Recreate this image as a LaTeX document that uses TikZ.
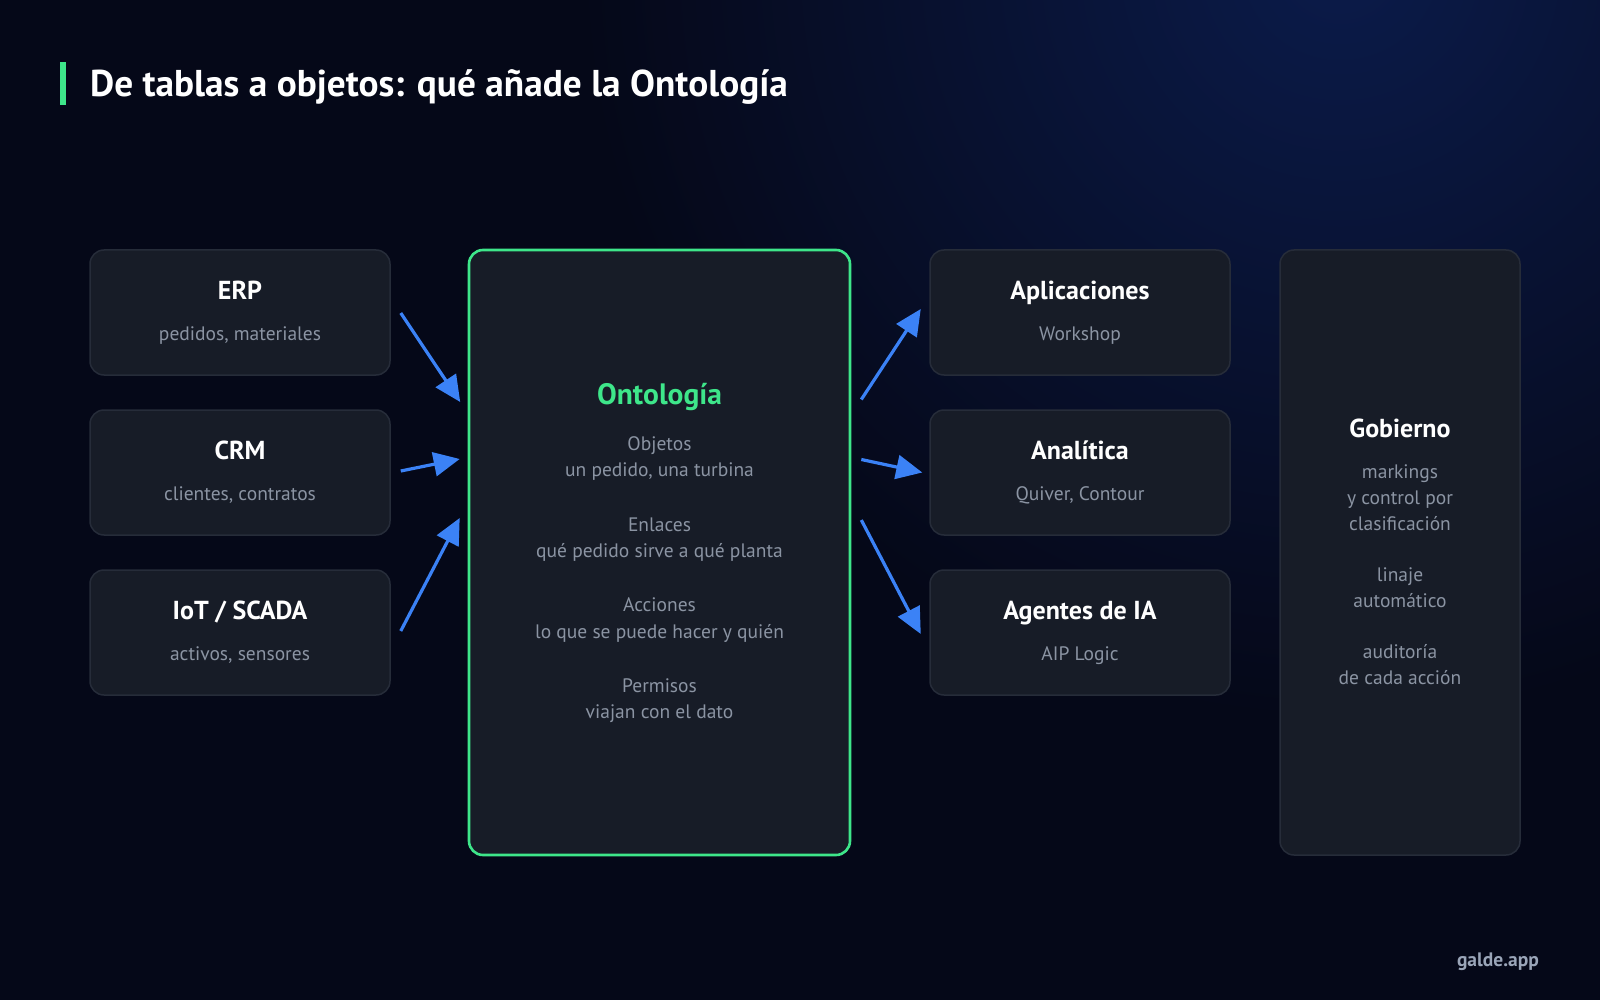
\documentclass[tikz,border=0pt]{standalone}
\usepackage{fontspec}
\setmainfont{PT Sans}
\usetikzlibrary{arrows.meta,calc}
\definecolor{bg}{HTML}{050818}
\definecolor{glow}{HTML}{0B1B4A}
\definecolor{boxfill}{HTML}{171C27}
\definecolor{boxline}{HTML}{262C39}
\definecolor{accent}{HTML}{3EE68A}
\definecolor{arrowblue}{HTML}{3B82F6}
\definecolor{subgray}{HTML}{8B94A3}
\definecolor{brandgray}{HTML}{9AA5B8}
\tikzset{
  box/.style={draw=boxline, line width=1.5pt, fill=boxfill, rounded corners=14pt, inner sep=0pt},
  mainbox/.style={draw=accent, line width=2.6pt, fill=boxfill, rounded corners=14pt, inner sep=0pt},
  boxtitle/.style={anchor=base, text=white, font=\fontsize{26}{30}\selectfont\bfseries, inner sep=0pt},
  boxsub/.style={anchor=base, text=subgray, font=\fontsize{19.5}{23}\selectfont, inner sep=0pt},
  flow/.style={draw=arrowblue, line width=3.2pt, -{Triangle[length=26pt,width=24pt]}},
}
\begin{document}
\begin{tikzpicture}[x=1pt,y=-1pt]
\useasboundingbox (0,0) rectangle (1600,1000);
\fill[bg] (0,0) rectangle (1600,1000);
\begin{scope}
  \clip (0,0) rectangle (1600,1000);
  \shade[inner color=glow, outer color=bg] (1340,-40) circle (760);
\end{scope}

% title
\fill[accent] (60,62) rectangle (65.5,105.5);
\node[anchor=base west, text=white, inner sep=0pt, font=\fontsize{37.3}{42}\selectfont\bfseries] (title) at (90,96.7) {De tablas a objetos: qué añade la Ontología};

% left sources
\node[box, minimum width=300, minimum height=125] (erp) at (240,312.5) {};
\node[box, minimum width=300, minimum height=125] (crm) at (240,472.5) {};
\node[box, minimum width=300, minimum height=125] (iot) at (240,632.5) {};
\node[boxtitle] (erpt) at (240,299.3) {ERP};
\node[boxsub] (erps) at (240,340) {pedidos, materiales};
\node[boxtitle] (crmt) at (240,459.3) {CRM};
\node[boxsub] (crms) at (240,500) {clientes, contratos};
\node[boxtitle] (iott) at (240,619.3) {IoT / SCADA};
\node[boxsub] (iots) at (240,660) {activos, sensores};

% center
\node[mainbox, minimum width=381, minimum height=605] (onto) at (659.5,552.5) {};
\node[anchor=base, text=accent, inner sep=0pt, font=\fontsize{29.5}{34}\selectfont\bfseries] (ontot) at (659.5,404) {Ontología};
\node[boxsub] (o1) at (659.5,450.7) {Objetos};
\node[boxsub] (o2) at (659.5,476.9) {un pedido, una turbina};
\node[boxsub] (o3) at (659.5,531.3) {Enlaces};
\node[boxsub] (o4) at (659.5,557.5) {qué pedido sirve a qué planta};
\node[boxsub] (o5) at (659.5,611.9) {Acciones};
\node[boxsub] (o6) at (659.5,638.1) {lo que se puede hacer y quién};
\node[boxsub] (o7) at (659.5,692.5) {Permisos};
\node[boxsub] (o8) at (659.5,718.7) {viajan con el dato};

% right consumers
\node[box, minimum width=300, minimum height=125] (app) at (1080,312.5) {};
\node[box, minimum width=300, minimum height=125] (ana) at (1080,472.5) {};
\node[box, minimum width=300, minimum height=125] (age) at (1080,632.5) {};
\node[boxtitle] (appt) at (1080,299.3) {Aplicaciones};
\node[boxsub] (apps) at (1080,340) {Workshop};
\node[boxtitle] (anat) at (1080,459.3) {Analítica};
\node[boxsub] (anas) at (1080,500) {Quiver, Contour};
\node[boxtitle] (aget) at (1080,619.3) {Agentes de IA};
\node[boxsub] (ages) at (1080,660) {AIP Logic};

% governance
\node[box, minimum width=240, minimum height=605] (gob) at (1400,552.5) {};
\node[boxtitle] (gobt) at (1400,437.7) {Gobierno};
\node[boxsub] (g1) at (1400,478.3) {markings};
\node[boxsub] (g2) at (1400,504.6) {y control por};
\node[boxsub] (g3) at (1400,530.6) {clasificación};
\node[boxsub] (g4) at (1400,581.4) {linaje};
\node[boxsub] (g5) at (1400,607.3) {automático};
\node[boxsub] (g6) at (1400,658.2) {auditoría};
\node[boxsub] (g7) at (1400,684.4) {de cada acción};

% arrows
\draw[flow] ($(erp.east)+(10,0.5)$) -- ($(onto.west)+(-7.5,-150.5)$);
\draw[flow] ($(crm.east)+(10,-1.5)$) -- ($(onto.west)+(-8,-93.5)$);
\draw[flow] ($(iot.east)+(10,-1.5)$) -- ($(onto.west)+(-8,-34.5)$);
\draw[flow] ($(onto.east)+(10,-153)$) -- ($(app.west)+(-8.5,-3.5)$);
\draw[flow] ($(onto.east)+(10,-93)$) -- ($(ana.west)+(-7,0)$);
\draw[flow] ($(onto.east)+(10,-32.5)$) -- ($(age.west)+(-8.5,1.5)$);

% brand
\node[anchor=base east, text=brandgray, inner sep=0pt, font=\fontsize{19.5}{23}\selectfont\bfseries] (brand) at (1539,966) {galde.app};
\end{tikzpicture}
\end{document}
